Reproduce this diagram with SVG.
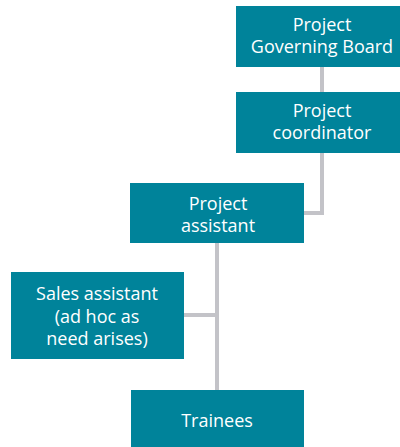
<svg xmlns="http://www.w3.org/2000/svg" width="400" height="447" viewBox="0 0 400 447">
<style>
.box{fill:#00839a}
.t{fill:#ffffff;font-family:"Open Sans","Noto Sans",sans-serif;font-size:18px;text-anchor:middle}
.c{stroke:#c3c3c8;stroke-width:4;fill:none}
</style>
<rect width="400" height="447" fill="#ffffff"/>
<g id="connectors">
<path class="c" d="M322 67V92"/>
<path class="c" d="M322 153V213H304"/>
<path class="c" d="M217 243V390"/>
<path class="c" d="M184 315H217"/>
</g>
<g id="board">
<rect class="box" x="236" y="6" width="164" height="61"/>
<text class="t" x="322" y="31">Project</text>
<text class="t" x="322" y="53">Governing Board</text>
</g>
<g id="coordinator">
<rect class="box" x="236" y="92" width="164" height="61"/>
<text class="t" x="322" y="117">Project</text>
<text class="t" x="322" y="139">coordinator</text>
</g>
<g id="assistant">
<rect class="box" x="130" y="183" width="174" height="60"/>
<text class="t" x="218" y="210">Project</text>
<text class="t" x="218" y="232">assistant</text>
</g>
<g id="sales">
<rect class="box" x="11" y="272" width="173" height="87"/>
<text class="t" x="97" y="300">Sales assistant</text>
<text class="t" x="97" y="323">(ad hoc as</text>
<text class="t" x="97" y="345">need arises)</text>
</g>
<g id="trainees">
<rect class="box" x="131" y="390" width="173" height="57"/>
<text class="t" x="217" y="427">Trainees</text>
</g>
</svg>
